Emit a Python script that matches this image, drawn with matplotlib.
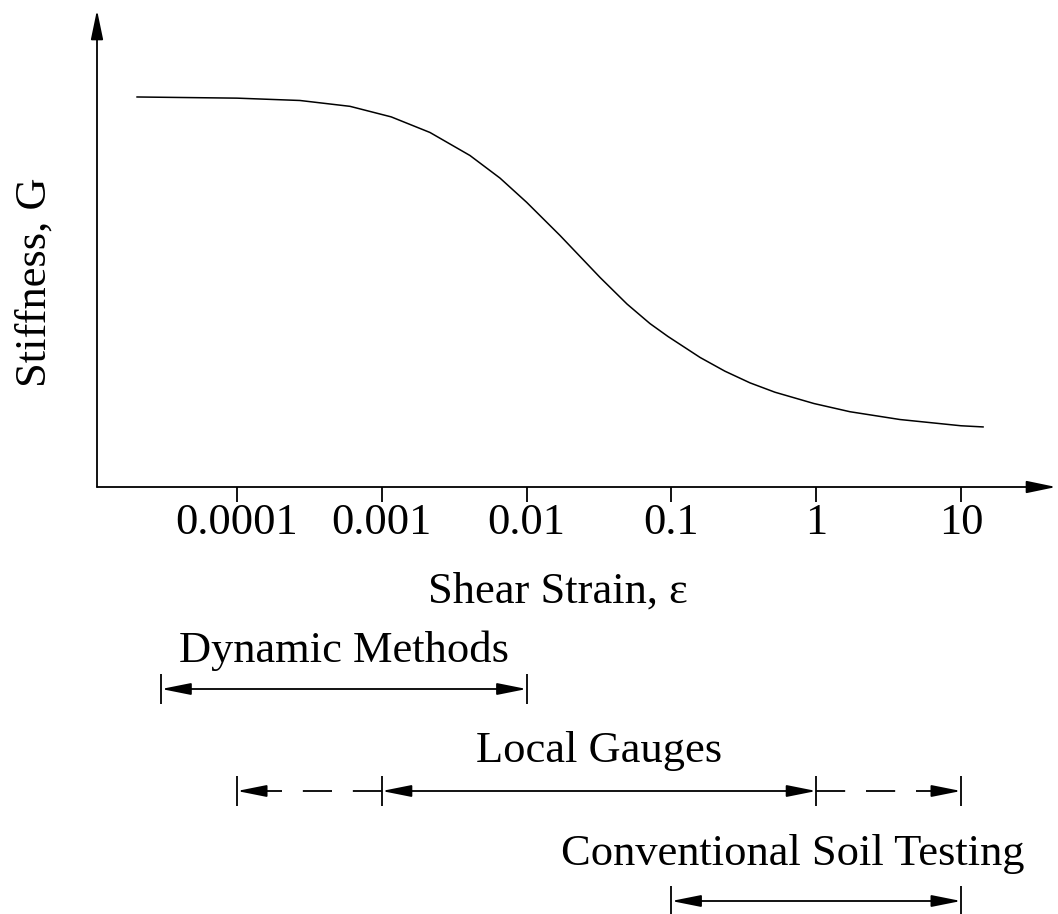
import matplotlib.pyplot as plt
from matplotlib.ticker import FixedLocator, FixedFormatter, NullLocator
import numpy as np

plt.rcParams['font.family'] = ['Liberation Serif', 'DejaVu Serif']
plt.rcParams['lines.scale_dashes'] = False

# stiffness degradation curve (G normalised by its small-strain value)
strain = [2.04e-5, 1e-4, 2.72e-4, 6.03e-4, 1.16e-3, 2.15e-3, 4.06e-3, 6.55e-3,
          1.0e-2, 1.70e-2, 3.22e-2, 4.94e-2, 7.11e-2, 9.46e-2, 0.158, 0.234, 0.349,
          0.519, 0.965, 1.71, 3.79, 10, 14.2]
G = [1.000, 0.997, 0.991, 0.976, 0.949, 0.909, 0.850, 0.792,
     0.730, 0.645, 0.537, 0.469, 0.419, 0.386, 0.332, 0.297, 0.267,
     0.243, 0.214, 0.193, 0.173, 0.157, 0.154]

tick_vals = [1e-4, 1e-3, 1e-2, 1e-1, 1, 10]
tick_labels = ['0.0001', '0.001', '0.01', '0.1', '1', '10']

# measuring ranges: solid part plus optional dashed extensions
methods = ['Dynamic Methods', 'Local Gauges', 'Conventional Soil Testing']
solid_from = [3e-5, 1e-3, 0.1]
solid_to = [1e-2, 1.0, 10]
dashed_from = [None, 1e-4, None]
dashed_to = [None, 10, None]

FS = 32
LW = 1.3

fig = plt.figure(figsize=(10.58, 9.14), dpi=100)
W, H = 1058, 914

ax = fig.add_axes([97 / W, (H - 487) / H, (1056 - 97) / W, (487 - 10) / H])
ax.plot(strain, G, color='black', lw=1.1)
ax.set_xscale('log')
ax.set_xlim(10 ** -4.967, 10 ** 1.656)
ax.set_ylim(0, 1.223)
for s in ax.spines.values():
    s.set_visible(False)
ax.xaxis.set_major_locator(FixedLocator(tick_vals))
ax.xaxis.set_major_formatter(FixedFormatter(tick_labels))
ax.xaxis.set_minor_locator(NullLocator())
ax.tick_params(axis='x', direction='out', length=10.8, width=LW, pad=1, labelsize=FS)
ax.set_yticks([])

# axis arrows
head = dict(arrowstyle='-|>,head_length=1.2,head_width=0.25', mutation_scale=15,
            lw=LW, color='black', shrinkA=0, shrinkB=0)
ax.annotate('', xy=(1, 0), xytext=(0, 0), xycoords='axes fraction', arrowprops=head)
ax.annotate('', xy=(0, 1), xytext=(0, 0), xycoords='axes fraction', arrowprops=head)

fig.text(558 / W, (H - 603) / H, 'Shear Strain, ε', fontsize=FS, ha='center', va='baseline')
fig.text(35 / W, (H - 282) / H, 'Stiffness, G', fontsize=FS, rotation=90,
         ha='center', va='center')

# lower panel with the testing ranges, y in pixels from the bottom
ax2 = fig.add_axes([97 / W, 0, (1056 - 97) / W, 294 / H])
ax2.set_xscale('log')
ax2.set_xlim(ax.get_xlim())
ax2.set_ylim(0, 294)
ax2.axis('off')

bar_y = [225, 123, 13]
label_y = [252, 152, 49]
label_x = [5.5e-4, 0.0316, 0.69]

both = dict(arrowstyle='<|-|>,head_length=1.8,head_width=0.36', mutation_scale=10,
            lw=LW, color='black', shrinkA=0, shrinkB=0)
one = dict(arrowstyle='-|>,head_length=1.8,head_width=0.36', mutation_scale=10,
           lw=LW, color='black', shrinkA=0, shrinkB=0)
dash = (0, (21, 15))

for i, name in enumerate(methods):
    y = bar_y[i]
    ax2.annotate('', xy=(solid_to[i], y), xytext=(solid_from[i], y), arrowprops=both,
                 annotation_clip=False)
    caps = [solid_from[i], solid_to[i]]
    if dashed_from[i] is not None:
        ax2.plot([solid_from[i], dashed_from[i]], [y, y], color='black', lw=LW,
                 linestyle=dash, dash_capstyle='butt')
        ax2.annotate('', xy=(dashed_from[i], y), xytext=(20, 0), textcoords='offset points',
                     arrowprops=one, annotation_clip=False)
        caps.append(dashed_from[i])
    if dashed_to[i] is not None:
        ax2.plot([solid_to[i], dashed_to[i]], [y, y], color='black', lw=LW,
                 linestyle=dash, dash_capstyle='butt')
        ax2.annotate('', xy=(dashed_to[i], y), xytext=(-20, 0), textcoords='offset points',
                     arrowprops=one, annotation_clip=False)
        caps.append(dashed_to[i])
    ax2.vlines(caps, y - 15, y + 15, color='black', lw=LW, clip_on=False)
    ax2.text(label_x[i], label_y[i], name, fontsize=FS, ha='center', va='baseline')

fig.savefig('out.png', dpi=100)
